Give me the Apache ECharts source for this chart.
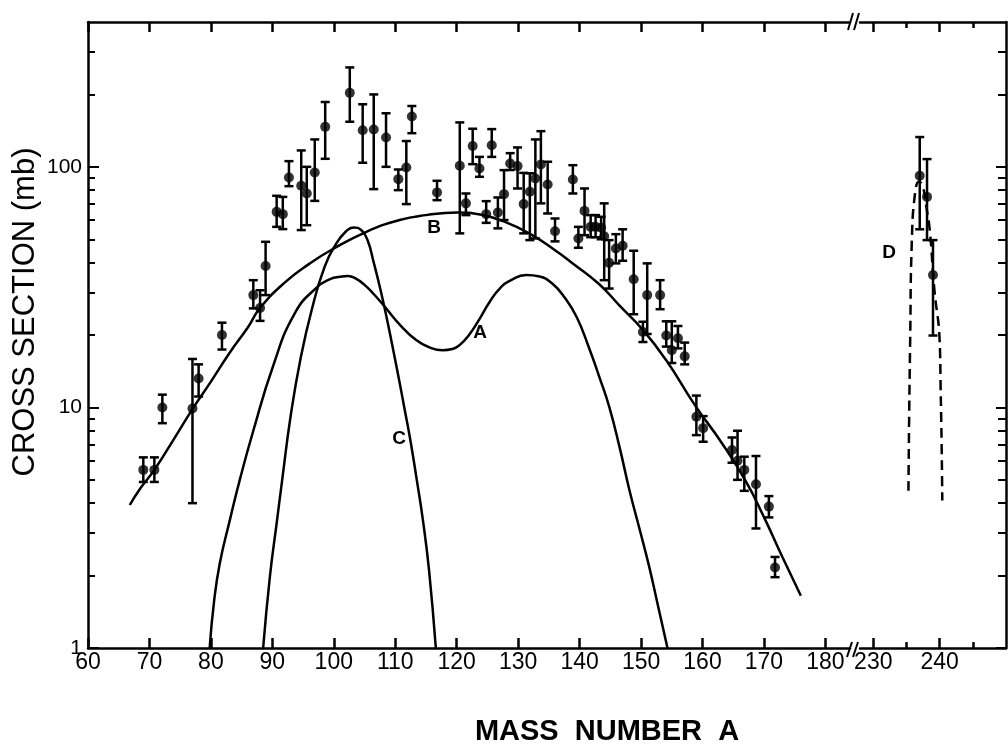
<!DOCTYPE html>
<html>
<head>
<meta charset="utf-8">
<script src="https://cdn.jsdelivr.net/npm/echarts@6/dist/echarts.min.js"></script>
<style>
html, body { margin: 0; padding: 0; background: #fff; }
#main { width: 1008px; height: 744px; }
</style>
</head>
<body>
<div id="main"></div>
<script>
// measured fragments: mass number, cross section (mb), lower / upper end of the error bar
var massNumber = [69.0, 70.8, 72.1, 77.0, 78.0, 81.8, 86.9, 88.0, 88.9, 90.7, 91.7, 92.7, 94.7, 95.6, 96.9, 98.6,
    102.6, 104.7, 106.5, 108.5, 110.5, 111.8, 112.7, 116.8, 120.5, 121.5, 122.6, 123.7, 124.8, 125.7, 126.7, 127.7,
    128.7, 129.9, 130.9, 131.9, 132.8, 133.7, 134.8, 136.0, 138.9, 139.8, 140.8, 141.8, 142.6, 143.5, 144.0, 144.8,
    145.9, 147.0, 148.8, 150.3, 151.0, 153.1, 154.1, 155.0, 156.0, 157.1, 159.0, 160.1, 164.8, 165.7, 166.8, 168.7,
    170.8, 171.8];
var crossSection = [5.5, 5.5, 10.0, 9.9, 13.2, 20.0, 29.3, 25.9, 38.7, 65.0, 63.6, 90.3, 83.4, 77.5, 94.8, 146.6,
    203, 142, 143, 132.5, 88.9, 99.4, 162, 78.3, 101, 70.5, 122, 98.4, 63.6, 123, 64.6, 77,
    103.3, 100.7, 70, 78.8, 89.5, 102.3, 84.5, 54, 88.6, 50.4, 65.6, 56.3, 56.3, 55.8, 51.5, 39.9,
    45.8, 47, 34.1, 20.6, 29.3, 29.3, 19.9, 17.3, 19.4, 16.3, 9.15, 8.2, 6.65, 6.0, 5.5, 4.79,
    3.87, 2.16];
var errLow = [4.9, 4.9, 8.6, 4.0, 11.1, 17.4, 25.8, 22.9, 29.3, 56.3, 55.1, 83.1, 54.6, 57.2, 72.2, 108,
    154, 104, 80.8, 100, 80, 70, 138, 72.7, 52.9, 63, 102.6, 90.9, 58.5, 110, 55.5, 60.1,
    97, 81.3, 52.9, 49.6, 50.4, 70.5, 64, 49, 77.5, 46.1, 52, 51, 51, 50, 33.8, 31.2,
    39.7, 40.7, 24.4, 18.7, 20.2, 25.6, 17.9, 15.3, 17.6, 15.1, 7.67, 7.2, 5.89, 5.0, 4.5, 3.14,
    3.49, 1.97];
var errHigh = [6.2, 6.2, 11.3, 15.9, 15.1, 22.5, 33.8, 30.7, 48.8, 75.8, 75.0, 105.6, 117, 100, 130, 186,
    259, 182, 200, 167, 97.5, 128, 179, 87.5, 153, 77.5, 144, 110, 72, 143.5, 74.6, 96.9,
    114, 120.4, 94.4, 94, 130, 140.7, 105, 61, 101.6, 56.3, 81.3, 63, 63, 62, 70.5, 49.6,
    52.5, 55, 44.8, 22.7, 39.7, 33.8, 22.8, 22.8, 21.8, 18.6, 11.2, 9.2, 7.5, 8.0, 6.24, 6.28,
    4.28, 2.39];

// the heavy fragments to the right of the axis break
var massNumberD = [237.0, 238.1, 239.0];
var crossSectionD = [91.8, 75, 35.5];
var errLowD = [55, 49.6, 19.9];
var errHighD = [133, 107.7, 49.6];

// calculated curves [mass number, mb]
var curveA = [[79.8, 1.0], [80.5, 1.55], [81.45, 2.25], [83.08, 3.4], [84.7, 5.0], [86.9, 8.0], [90.1, 14.8],
    [93.6, 24.5], [97.2, 31.5], [99.5, 34.2], [101, 34.9], [102.3, 35.2], [103.6, 34.3], [105, 32.3],
    [106.6, 29.4], [108.3, 26.2], [110.8, 22], [113.4, 19.05], [115.5, 17.8], [117.7, 17.3], [119.3, 17.5],
    [120.5, 18.2], [122, 20], [123.7, 23.3], [125.3, 27.3], [127, 31.2], [129, 34.0], [131.3, 35.5],
    [133.5, 35.0], [135.5, 32.8], [137.5, 28.8], [139.5, 23.8], [141.6, 17.5], [143.2, 13.4], [144.8, 10.1],
    [146.5, 6.84], [148.1, 4.54], [149.7, 3.16], [151.3, 2.19], [152.8, 1.48], [154.3, 1.0]];
var curveB = [[66.8, 3.93], [68.5, 4.6], [70.8, 5.5], [74, 7.4], [77, 9.84], [80, 12.8], [83, 16.8], [86, 21.5],
    [88, 25.9], [92, 33], [96, 39.5], [99.5, 45], [105.3, 53.7], [110.7, 60.1], [115, 63], [120, 64.6],
    [124, 63.2], [127.5, 59.5], [131.8, 52.9], [136, 45], [139, 39.5], [143.2, 32.5], [146.5, 26.5],
    [150.3, 21], [154.1, 15.7], [158.9, 10.1], [163, 7.2], [167.1, 4.9], [170, 3.5], [173, 2.39], [176, 1.65]];
var curveC = [[88.5, 1.0], [89.6, 1.98], [90.7, 3.3], [91.6, 5.0], [93, 9.3], [94.6, 16], [96.4, 25.4],
    [98.5, 38.4], [100.4, 48], [102, 54], [103.2, 56], [104.5, 54.5], [105.5, 49.5], [106.5, 40],
    [107.5, 31.6], [108.5, 24.3], [109.5, 18.2], [110.5, 13.5], [111.5, 9.9], [112.5, 7.2], [113.5, 5.0],
    [114.5, 3.4], [115.5, 2.1], [116.6, 1.0]];
var curveD = [[235.3, 4.5], [235.4, 8.8], [235.56, 19], [235.8, 48], [236.3, 78], [236.9, 87], [237.5, 82],
    [238.0, 68], [238.5, 55], [239.2, 31], [240.0, 19], [240.15, 12], [240.3, 7], [240.4, 4.1]];

// ticks
var xTicksLeft = [60, 70, 80, 90, 100, 110, 120, 130, 140, 150, 160, 170, 180];
var xTicksRight = [230, 240];
var xMinorRight = [235, 245];
var yLabels = [1, 10, 100];
var yMinor = [2, 3, 4, 5, 6, 7, 8, 9, 20, 30, 40, 50, 60, 70, 80, 90, 200, 300];
var yMax = 400;

var lg = function (v) { return Math.log10(v); };
var black = '#000';

function points(xs, ys) {
    return xs.map(function (x, i) { return [x, lg(ys[i])]; });
}
function bars(xs, lo, hi) {
    return xs.map(function (x, i) { return [x, lg(lo[i]), lg(hi[i])]; });
}
function curve(c) {
    return c.map(function (p) { return [p[0], lg(p[1])]; });
}

// vertical error bar with small caps
function errorBar(params, api) {
    var x = api.value(0);
    var lo = api.coord([x, api.value(1)]);
    var hi = api.coord([x, api.value(2)]);
    var w = 4.5;
    var st = { stroke: black, lineWidth: 2.5, fill: null };
    return {
        type: 'group',
        children: [
            { type: 'line', shape: { x1: lo[0], y1: lo[1], x2: hi[0], y2: hi[1] }, style: st },
            { type: 'line', shape: { x1: hi[0] - w, y1: hi[1], x2: hi[0] + w, y2: hi[1] }, style: st },
            { type: 'line', shape: { x1: lo[0] - w, y1: lo[1], x2: lo[0] + w, y2: lo[1] }, style: st }
        ]
    };
}

function xAxis(grid, pos, min, max, ticks, len, labels, line) {
    return {
        gridIndex: grid, type: 'value', position: pos, min: min, max: max,
        axisLine: { show: line, onZero: false, lineStyle: { color: black, width: 2.5 } },
        axisTick: { inside: true, length: len, customValues: ticks, lineStyle: { color: black, width: 2.5 } },
        axisLabel: labels ? { customValues: labels, color: black, fontFamily: 'Liberation Sans', fontSize: 23, margin: 3 } : { show: false },
        splitLine: { show: false }
    };
}
function yAxis(grid, pos, ticks, len, labels, line) {
    return {
        gridIndex: grid, type: 'value', position: pos, min: 0, max: lg(yMax),
        axisLine: { show: line, onZero: false, lineStyle: { color: black, width: 2.5 } },
        axisTick: { inside: true, length: len, customValues: ticks.map(lg), lineStyle: { color: black, width: 2 } },
        axisLabel: labels ? {
            customValues: labels.map(lg), color: black, fontFamily: 'Liberation Sans', fontSize: 21, margin: 6,
            formatter: function (v) { return String(Math.round(Math.pow(10, v))); }
        } : { show: false },
        splitLine: { show: false }
    };
}

var chart = echarts.init(document.getElementById('main'));

var lineSeries = function (data, xi, yi, dashed) {
    return {
        type: 'line', data: curve(data), xAxisIndex: xi, yAxisIndex: yi,
        smooth: 0.5, showSymbol: false, symbol: 'none',
        lineStyle: { color: black, width: 2.5, type: dashed ? [10, 6] : 'solid' },
        silent: true
    };
};

chart.setOption({
    animation: false,
    backgroundColor: '#fff',
    grid: [
        { left: 88, top: 22, width: 762, height: 626, outerBoundsMode: 'none' },
        { left: 860, top: 22, width: 146, height: 626, outerBoundsMode: 'none' }
    ],
    xAxis: [
        xAxis(0, 'bottom', 60, 184, xTicksLeft, 10, xTicksLeft, true),
        xAxis(0, 'top', 60, 184, xTicksLeft, 10, null, true),
        xAxis(1, 'bottom', 228, 250, xTicksRight, 10, xTicksRight, true),
        xAxis(1, 'bottom', 228, 250, xMinorRight, 6, null, false),
        xAxis(1, 'top', 228, 250, xTicksRight, 10, null, true),
        xAxis(1, 'top', 228, 250, xMinorRight, 6, null, false)
    ],
    yAxis: [
        yAxis(0, 'left', yLabels, 11, yLabels, true),
        yAxis(0, 'left', yMinor, 7, null, false),
        yAxis(1, 'right', yLabels, 10, null, true),
        yAxis(1, 'right', yMinor, 8, null, false)
    ],
    series: [
        lineSeries(curveA, 0, 0, false),
        lineSeries(curveB, 0, 0, false),
        lineSeries(curveC, 0, 0, false),
        lineSeries(curveD, 2, 2, true),
        {
            type: 'custom', xAxisIndex: 0, yAxisIndex: 0, renderItem: errorBar,
            encode: { x: 0, y: [1, 2] }, data: bars(massNumber, errLow, errHigh), silent: true
        },
        {
            type: 'custom', xAxisIndex: 2, yAxisIndex: 2, renderItem: errorBar,
            encode: { x: 0, y: [1, 2] }, data: bars(massNumberD, errLowD, errHighD), silent: true
        },
        {
            type: 'scatter', xAxisIndex: 0, yAxisIndex: 0, symbol: 'circle', symbolSize: 10,
            itemStyle: { color: black }, data: points(massNumber, crossSection), silent: true
        },
        {
            type: 'scatter', xAxisIndex: 2, yAxisIndex: 2, symbol: 'circle', symbolSize: 10,
            itemStyle: { color: black }, data: points(massNumberD, crossSectionD), silent: true
        }
    ],
    graphic: [
        {
            type: 'text', x: 25, y: 312, rotation: Math.PI / 2,
            style: { text: 'CROSS SECTION (mb)', font: '31px "Liberation Sans"', fill: black, align: 'center', verticalAlign: 'middle', textAlign: 'center', textVerticalAlign: 'middle' }
        },
        {
            type: 'text', x: 607, y: 732,
            style: { text: 'MASS  NUMBER  A', font: 'bold 29px "Liberation Sans"', fill: black, align: 'center', verticalAlign: 'middle', textAlign: 'center', textVerticalAlign: 'middle' }
        },
        { type: 'text', x: 480, y: 333, style: { text: 'A', font: 'bold 19px "Liberation Sans"', fill: black, align: 'center', verticalAlign: 'middle', textAlign: 'center', textVerticalAlign: 'middle' } },
        { type: 'text', x: 434, y: 228, style: { text: 'B', font: 'bold 19px "Liberation Sans"', fill: black, align: 'center', verticalAlign: 'middle', textAlign: 'center', textVerticalAlign: 'middle' } },
        { type: 'text', x: 399, y: 439, style: { text: 'C', font: 'bold 19px "Liberation Sans"', fill: black, align: 'center', verticalAlign: 'middle', textAlign: 'center', textVerticalAlign: 'middle' } },
        { type: 'text', x: 889, y: 253, style: { text: 'D', font: 'bold 19px "Liberation Sans"', fill: black, align: 'center', verticalAlign: 'middle', textAlign: 'center', textVerticalAlign: 'middle' } },
        // axis break marks
        { type: 'line', shape: { x1: 848, y1: 30, x2: 853, y2: 13 }, style: { stroke: black, lineWidth: 2 } },
        { type: 'line', shape: { x1: 854, y1: 30, x2: 859, y2: 13 }, style: { stroke: black, lineWidth: 2 } },
        { type: 'line', shape: { x1: 847, y1: 657, x2: 852, y2: 642 }, style: { stroke: black, lineWidth: 2 } },
        { type: 'line', shape: { x1: 853, y1: 657, x2: 858, y2: 642 }, style: { stroke: black, lineWidth: 2 } }
    ]
});
</script>
</body>
</html>
